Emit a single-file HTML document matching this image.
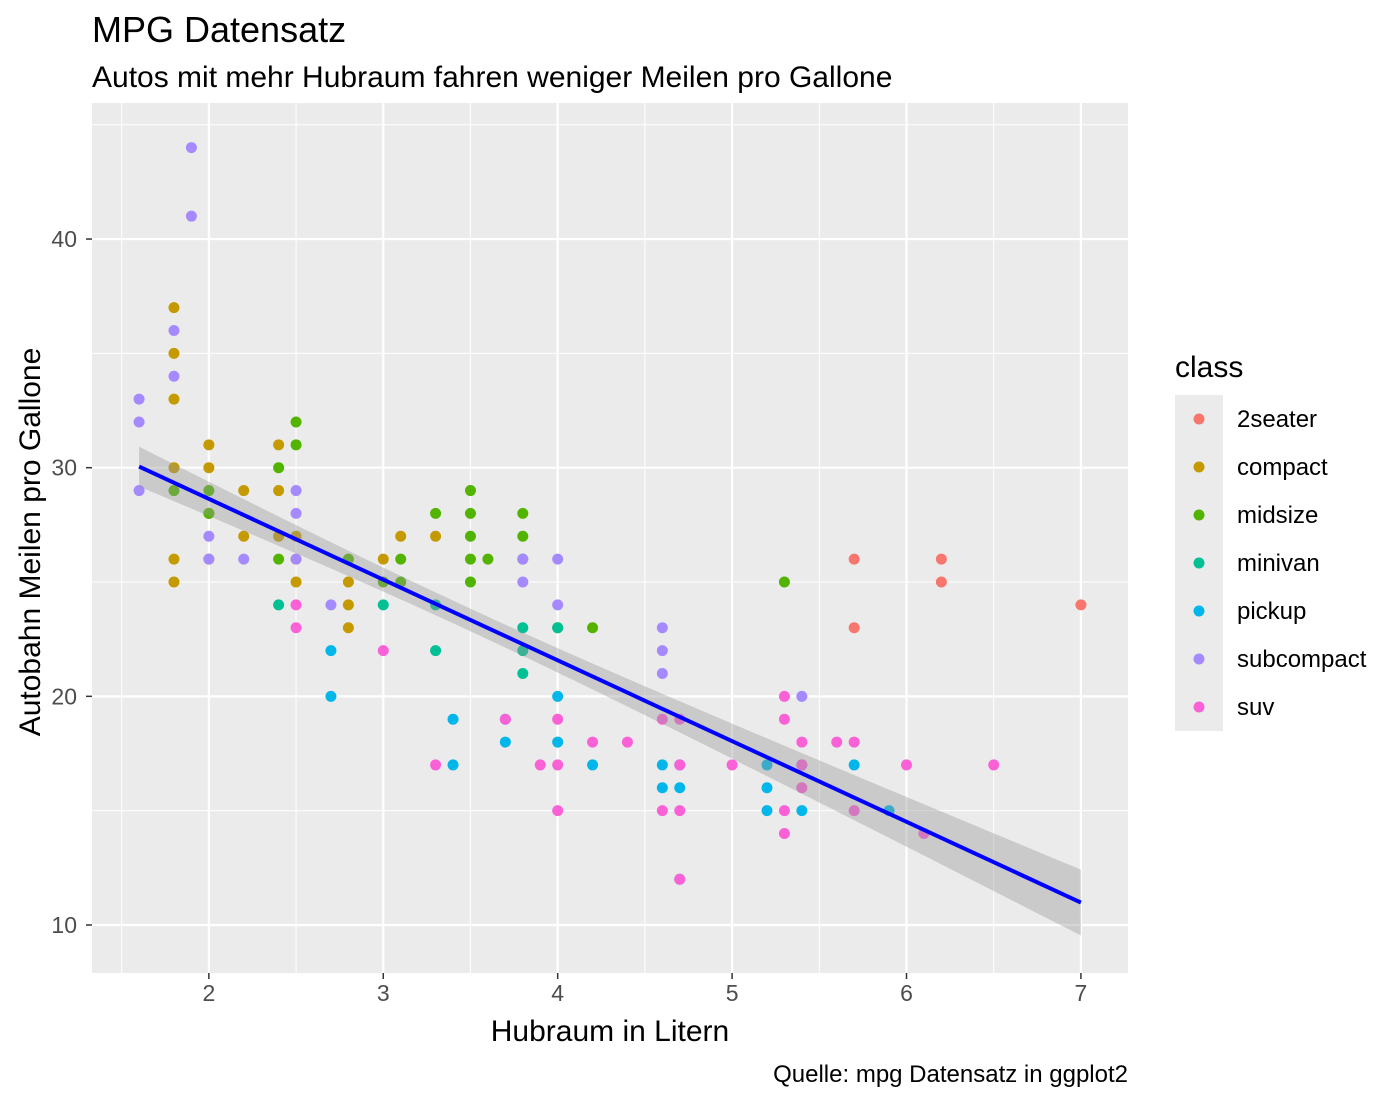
<!DOCTYPE html>
<html><head><meta charset="utf-8"><style>
body{margin:0;background:#fff;}
svg{display:block;font-family:"Liberation Sans",Arial,sans-serif;}
</style></head><body>
<svg id="chart" width="1400" height="1100" viewBox="0 0 1400 1100">
<rect width="1400" height="1100" fill="#fff"/>
<text x="92" y="42" font-size="36" fill="#000">MPG Datensatz</text>
<text x="92" y="87" font-size="30" fill="#000">Autos mit mehr Hubraum fahren weniger Meilen pro Gallone</text>
<g id="panel"></g>
<text x="610" y="1041" font-size="30" text-anchor="middle" fill="#000">Hubraum in Litern</text>
<text transform="translate(40,542) rotate(-90)" font-size="30" text-anchor="middle" fill="#000">Autobahn Meilen pro Gallone</text>
<text x="1128" y="1082" font-size="24" text-anchor="end" fill="#000">Quelle: mpg Datensatz in ggplot2</text>
<g id="legend"></g>
</svg>
<script>
const classes = ["2seater","compact","midsize","minivan","pickup","subcompact","suv"];
const colors = ["#F8766D","#C49A00","#53B400","#00C094","#00B6EB","#A58AFF","#FB61D7"];
const xTicks = [2,3,4,5,6,7];
const yTicks = [10,20,30,40];
const fitCoef = [35.698,-3.531];
const fitStats = [3.836,3.4718,388.9,234,1.97];
const pts2seater = [[5.7,26],[5.7,23],[6.2,26],[6.2,25],[7.0,24]];
const ptsCompact = [[1.8,37],[1.8,35],[1.8,33],[1.8,30],[1.8,26],[1.8,25],[2.0,31],[2.0,30],[2.0,28],[2.0,26],[2.2,29],[2.2,27],[2.4,31],[2.4,29],[2.4,27],[2.5,27],[2.5,25],[2.5,26],[2.8,25],[2.8,24],[2.8,23],[3.0,26],[3.1,27],[3.3,27]];
const ptsMidsize = [[1.8,29],[2.0,29],[2.0,28],[2.4,30],[2.4,26],[2.5,32],[2.5,31],[2.8,26],[3.0,25],[3.1,26],[3.1,25],[3.3,28],[3.5,29],[3.5,28],[3.5,27],[3.5,26],[3.5,25],[3.6,26],[3.8,28],[3.8,27],[3.8,26],[4.0,23],[4.2,23],[5.3,25]];
const ptsMinivan = [[2.4,24],[3.0,24],[3.3,24],[3.3,22],[3.8,23],[3.8,22],[3.8,21],[4.0,23]];
const ptsPickup = [[2.7,22],[2.7,20],[3.4,19],[3.4,17],[3.7,18],[3.7,19],[4.0,20],[4.0,18],[4.2,17],[4.6,17],[4.6,16],[4.7,17],[4.7,16],[4.7,12],[5.2,17],[5.2,16],[5.2,15],[5.4,15],[5.4,17],[5.7,17],[5.9,15]];
const ptsSubcompact = [[1.6,33],[1.6,32],[1.6,29],[1.8,36],[1.8,34],[1.9,44],[1.9,41],[2.0,27],[2.0,26],[2.2,26],[2.5,29],[2.5,28],[2.5,26],[2.7,24],[3.8,26],[3.8,25],[4.0,26],[4.0,24],[4.6,23],[4.6,22],[4.6,21],[5.4,20]];
const ptsSuv = [[2.5,24],[2.5,23],[3.0,22],[3.3,17],[3.7,19],[3.9,17],[4.0,19],[4.0,17],[4.0,15],[4.2,18],[4.4,18],[4.6,19],[4.6,15],[4.7,19],[4.7,17],[4.7,15],[4.7,12],[5.0,17],[5.3,20],[5.3,19],[5.3,15],[5.3,14],[5.4,18],[5.4,17],[5.4,16],[5.6,18],[5.7,18],[5.7,15],[6.0,17],[6.1,14],[6.5,17]];
const seriesPts = [pts2seater,ptsCompact,ptsMidsize,ptsMinivan,ptsPickup,ptsSubcompact,ptsSuv];

const NS="http://www.w3.org/2000/svg";
const PX0=92,PX1=1128,PY0=103,PY1=973;
const xMin=1.33,xMax=7.27,yMin=7.9,yMax=45.95;
function sx(v){return PX0+(v-xMin)/(xMax-xMin)*(PX1-PX0);}
function sy(v){return PY1-(v-yMin)/(yMax-yMin)*(PY1-PY0);}
function mk(tag,attrs,parent){const e=document.createElementNS(NS,tag);for(const k in attrs)e.setAttribute(k,attrs[k]);parent.appendChild(e);return e;}
const panel=document.getElementById('panel');
const svg=document.getElementById('chart');
let r=mk('rect',{x:PX0,y:PY0,width:PX1-PX0,height:PY1-PY0,fill:'#EBEBEB'},panel);


for(let v=1.5;v<=7.5;v+=1){if(v<xMin||v>xMax)continue;const l=mk('line',{x1:sx(v),x2:sx(v),y1:PY0,y2:PY1,stroke:'#fff','stroke-width':1},panel);

}
for(let v=5;v<=45;v+=10){if(v<yMin||v>yMax)continue;const l=mk('line',{x1:PX0,x2:PX1,y1:sy(v),y2:sy(v),stroke:'#fff','stroke-width':1},panel);

}
xTicks.forEach(v=>{const l=mk('line',{x1:sx(v),x2:sx(v),y1:PY0,y2:PY1,stroke:'#fff','stroke-width':2.2},panel);


const t=mk('line',{x1:sx(v),x2:sx(v),y1:PY1,y2:PY1+6,stroke:'#333','stroke-width':1.5},svg);


const tx=mk('text',{x:sx(v),y:PY1+28,'font-size':23,'text-anchor':'middle',fill:'#4D4D4D'},svg);tx.textContent=v;

});
yTicks.forEach(v=>{const l=mk('line',{x1:PX0,x2:PX1,y1:sy(v),y2:sy(v),stroke:'#fff','stroke-width':2.2},panel);


const t=mk('line',{x1:PX0-6,x2:PX0,y1:sy(v),y2:sy(v),stroke:'#333','stroke-width':1.5},svg);


const tx=mk('text',{x:PX0-15,y:sy(v)+8,'font-size':23,'text-anchor':'end',fill:'#4D4D4D'},svg);tx.textContent=v;

});
seriesPts.forEach((arr,i)=>{arr.forEach(p=>{const c=mk('circle',{cx:sx(p[0]),cy:sy(p[1]),r:5.5,fill:colors[i]},panel);

});});
const xs=[];for(let k=0;k<=80;k++)xs.push(1.6+(7-1.6)*k/80);
function fit(x){return fitCoef[0]+fitCoef[1]*x;}
function hw(x){const [s,m,sxx,n,t]=fitStats;return t*s*Math.sqrt(1/n+(x-m)*(x-m)/sxx);}
let d='';xs.forEach((x,k)=>{d+=(k?'L':'M')+sx(x)+','+sy(fit(x)+hw(x));});
for(let k=xs.length-1;k>=0;k--){const x=xs[k];d+='L'+sx(x)+','+sy(fit(x)-hw(x));}d+='Z';
const rib=mk('path',{d:d,fill:'#999','fill-opacity':0.4},panel);


const ln=mk('line',{x1:sx(1.6),y1:sy(fit(1.6)),x2:sx(7),y2:sy(fit(7)),stroke:'#0000FF','stroke-width':4},panel);


const lg=document.getElementById('legend');
const lt=mk('text',{x:1175,y:377,'font-size':30,fill:'#000'},lg);lt.textContent='class';


classes.forEach((c,i)=>{const y=395+i*48;
const b=mk('rect',{x:1175,y:y,width:48,height:48,fill:'#EBEBEB'},lg);


const p=mk('circle',{cx:1199,cy:y+24,r:5.5,fill:colors[i]},lg);


const t=mk('text',{x:1237,y:y+32,'font-size':24,fill:'#000'},lg);t.textContent=c;

});
</script>
</body></html>
